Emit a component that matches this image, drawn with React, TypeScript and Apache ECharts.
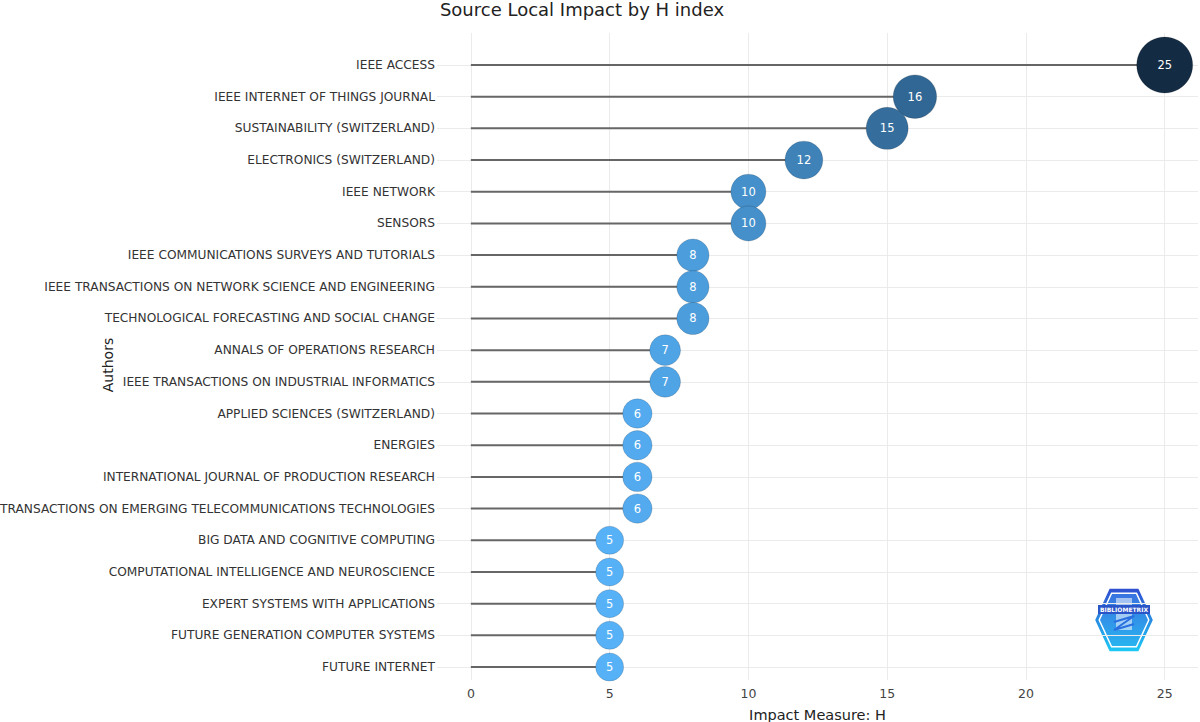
import React, { useEffect, useRef } from "react";
import * as echarts from "echarts";

const categories: string[] = [
  "IEEE ACCESS",
  "IEEE INTERNET OF THINGS JOURNAL",
  "SUSTAINABILITY (SWITZERLAND)",
  "ELECTRONICS (SWITZERLAND)",
  "IEEE NETWORK",
  "SENSORS",
  "IEEE COMMUNICATIONS SURVEYS AND TUTORIALS",
  "IEEE TRANSACTIONS ON NETWORK SCIENCE AND ENGINEERING",
  "TECHNOLOGICAL FORECASTING AND SOCIAL CHANGE",
  "ANNALS OF OPERATIONS RESEARCH",
  "IEEE TRANSACTIONS ON INDUSTRIAL INFORMATICS",
  "APPLIED SCIENCES (SWITZERLAND)",
  "ENERGIES",
  "INTERNATIONAL JOURNAL OF PRODUCTION RESEARCH",
  "TRANSACTIONS ON EMERGING TELECOMMUNICATIONS TECHNOLOGIES",
  "BIG DATA AND COGNITIVE COMPUTING",
  "COMPUTATIONAL INTELLIGENCE AND NEUROSCIENCE",
  "EXPERT SYSTEMS WITH APPLICATIONS",
  "FUTURE GENERATION COMPUTER SYSTEMS",
  "FUTURE INTERNET",
];

const hValues: number[] = [25, 16, 15, 12, 10, 10, 8, 8, 8, 7, 7, 6, 6, 6, 6, 5, 5, 5, 5, 5];

const xTicks: number[] = [0, 5, 10, 15, 20, 25];

const FONT = "'DejaVu Sans', Verdana, sans-serif";

export default function App() {
  const ref = useRef<HTMLDivElement>(null);

  useEffect(() => {
    document.body.style.margin = "0";
    if (!ref.current) return;
    const chart = echarts.init(ref.current, undefined, { renderer: "svg" });
    const points = hValues.map((v, i) => [v, i]);
    const rowIdx = categories.map((_, i) => i);

    const cx = 1124;
    const cy = 620;
    const hex = (r: number) => {
      const pts: number[][] = [];
      for (let k = 0; k < 6; k++) {
        const a = Math.PI / 6 + (k * Math.PI) / 3 - Math.PI / 2;
        pts.push([cx + r * 0.8 * Math.cos(a), cy + r * Math.sin(a)]);
      }
      return pts;
    };

    chart.setOption({
      animation: false,
      textStyle: { fontFamily: FONT },
      title: {
        text: "Source Local Impact by H index",
        left: 577,
        top: -5,
        textAlign: "center",
        textStyle: { fontFamily: FONT, fontSize: 18, fontWeight: "normal", color: "#222" },
      },
      grid: { left: 437, right: 2, top: 33, bottom: 42, containLabel: false, outerBoundsMode: "none" },
      xAxis: {
        type: "value",
        min: -1.22,
        max: 26.2,
        name: "Impact Measure: H",
        nameLocation: "middle",
        nameGap: 27,
        nameTextStyle: { fontFamily: FONT, fontSize: 14.5, color: "#222" },
        axisLine: { show: false },
        axisTick: { show: false, customValues: xTicks },
        axisLabel: { customValues: xTicks, color: "#444", fontSize: 12.5, margin: 7, fontFamily: FONT },
        splitLine: { show: true, lineStyle: { color: "#ebebeb", width: 1 } },
      },
      yAxis: {
        type: "value",
        inverse: true,
        min: -1.01,
        max: 19.41,
        axisLine: { show: false },
        axisTick: { show: false, customValues: rowIdx },
        axisLabel: {
          customValues: rowIdx,
          formatter: (v: number) => categories[Math.round(v)] ?? "",
          color: "#333",
          fontSize: 12.2,
          margin: 2,
          fontFamily: FONT,
        },
        splitLine: { show: true, lineStyle: { color: "#ebebeb", width: 1 } },
      },
      visualMap: {
        show: false,
        type: "continuous",
        dimension: 0,
        min: 5,
        max: 25,
        seriesIndex: 1,
        inRange: { color: ["#56B1F7", "#132B43"] },
      },
      series: [
        {
          type: "custom",
          data: points,
          encode: { x: 0, y: 1 },
          renderItem: (params: any, api: any) => {
            const v = api.value(0);
            const i = api.value(1);
            const s = api.coord([0, i]);
            const e = api.coord([v, i]);
            return {
              type: "line",
              shape: { x1: s[0], y1: s[1], x2: e[0], y2: e[1] },
              style: { stroke: "#666", lineWidth: 2 },
            };
          },
          z: 2,
        },
        {
          type: "scatter",
          data: points,
          symbol: "circle",
          symbolSize: (d: number[]) => 28 + (d[0] - 5) * 1.4,
          itemStyle: { opacity: 1, borderColor: "rgba(0,0,0,0.15)", borderWidth: 1 },
          label: {
            show: true,
            position: "inside",
            formatter: (p: any) => String(p.value[0]),
            color: "#fff",
            fontSize: 11.5,
            fontFamily: FONT,
          },
          z: 3,
        },
      ],
      graphic: [
        {
          type: "polygon",
          shape: { points: hex(36) },
          style: {
            fill: {
              type: "linear",
              x: 0,
              y: 0,
              x2: 0,
              y2: 1,
              colorStops: [
                { offset: 0, color: "#2f4fd0" },
                { offset: 1, color: "#1ec8f5" },
              ],
            },
          },
        },
        {
          type: "polygon",
          shape: { points: hex(31) },
          style: {
            fill: {
              type: "linear",
              x: 0,
              y: 0,
              x2: 0,
              y2: 1,
              colorStops: [
                { offset: 0, color: "#3a72e0" },
                { offset: 1, color: "#28b4f0" },
              ],
            },
            stroke: "#ffffff",
            lineWidth: 1.5,
          },
        },
        {
          type: "rect",
          shape: { x: cx - 8, y: cy - 22, width: 16, height: 32 },
          style: { fill: "rgba(255,255,255,0.55)" },
        },
        {
          type: "polyline",
          shape: { points: [[cx - 10, cy + 2], [cx + 10, cy - 4], [cx - 10, cy + 10], [cx + 10, cy + 4]] },
          style: { stroke: "#2a6fe0", lineWidth: 2, fill: "none" },
        },
        {
          type: "rect",
          shape: { x: cx - 26, y: cy - 15, width: 52, height: 9 },
          style: { fill: "#2a55c8" },
        },
        {
          type: "text",
          x: cx,
          y: cy - 10.5,
          style: {
            text: "BIBLIOMETRIX",
            fill: "#ffffff",
            fontSize: 6,
            fontWeight: "bold",
            fontFamily: FONT,
            align: "center",
            verticalAlign: "middle",
          },
        },
        {
          type: "text",
          x: 108,
          y: 365,
          rotation: Math.PI / 2,
          style: {
            text: "Authors",
            fill: "#222",
            fontSize: 14,
            fontFamily: FONT,
            align: "center",
            verticalAlign: "middle",
          },
        },
      ],
    });
    return () => chart.dispose();
  }, []);

  return <div ref={ref} style={{ width: 1200, height: 722 }} />;
}
